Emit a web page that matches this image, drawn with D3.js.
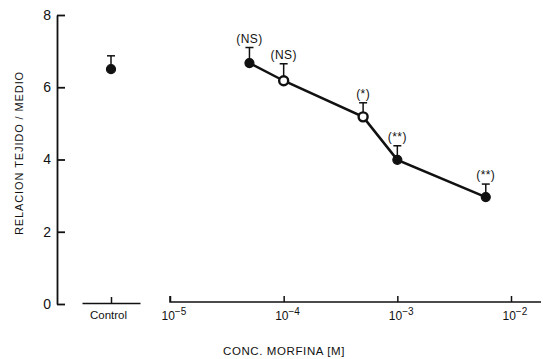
<!DOCTYPE html>
<html><head><meta charset="utf-8">
<script src="https://cdn.jsdelivr.net/npm/d3@7"></script>
<style>
body{margin:0;background:#fff;}
svg{display:block;font-family:"Liberation Sans",Arial,sans-serif;}
</style></head>
<body><svg id="c" width="543" height="359"></svg>
<script>
// Data
const controlCategory = ["Control"];
const controlValue = [6.5];
const controlErr = [6.87];
const concentrations = [5e-5, 1e-4, 5e-4, 1e-3, 6e-3];
const ratioValues = [6.67, 6.18, 5.18, 3.99, 2.96];
const errorTops = [7.1, 6.65, 5.57, 4.38, 3.32];
const significance = ["(NS)", "(NS)", "(*)", "(**)", "(**)"];
const openMarker = [false, true, true, false, false];
const yTicks = [0, 2, 4, 6, 8];
const xTicks = [1e-5, 1e-4, 1e-3, 1e-2];
const xTickExp = ["-5", "-4", "-3", "-2"];

const svg = d3.select("#c");
const y = d3.scaleLinear().domain([0, 8]).range([304, 15]);
const x = d3.scaleLog().domain([1e-5, 1e-2]).range([170, 511]);
const xc = d3.scalePoint().domain(controlCategory).range([82, 140]).padding(0.5);

// Y axis
const ya = svg.append("g").attr("transform", "translate(57,0)")
  .call(d3.axisLeft(y).tickValues(yTicks).tickSizeInner(-8).tickSizeOuter(0).tickPadding(6).tickFormat(d3.format("d")));
ya.selectAll("path,line").attr("stroke", "#111").attr("stroke-width", 1.8);
ya.selectAll("text").attr("font-size", 14).attr("fill", "#111");

// Control axis
const ca = svg.append("g").attr("transform", "translate(0,303)")
  .call(d3.axisBottom(xc).tickSizeInner(-6).tickSizeOuter(0).tickPadding(8));
ca.selectAll("path,line").attr("stroke", "#111").attr("stroke-width", 1.5);
ca.selectAll("text").attr("font-size", 11.5).attr("fill", "#111").attr("x", -3);

// Log axis
const la = svg.append("g").attr("transform", "translate(0,302)")
  .call(d3.axisBottom(x).tickValues(xTicks).tickSizeInner(-6).tickSizeOuter(0).tickPadding(9).tickFormat(() => ""));
la.select(".domain").attr("d", "M" + x(1e-5) + ",-6V0H541");
la.selectAll("path,line").attr("stroke", "#111").attr("stroke-width", 1.5);
la.selectAll(".tick text").each(function(d, i) {
  const t = d3.select(this).attr("font-size", 12).attr("fill", "#111").attr("text-anchor", "start")
    .attr("x", -9).attr("y", 18).attr("dy", null);
  t.append("tspan").text("10");
  t.append("tspan").attr("dy", -5).attr("font-size", 10).text("\u2212" + xTickExp[i].slice(1));
});

// Axis titles
svg.append("text").attr("x", 284).attr("y", 355).attr("text-anchor", "middle")
  .attr("font-size", 11.5).attr("fill", "#111").attr("letter-spacing", 0.6).text("CONC. MORFINA [M]");
svg.append("text").attr("transform", "translate(23,153) rotate(-90)").attr("text-anchor", "middle")
  .attr("font-size", 11).attr("fill", "#111").attr("letter-spacing", 0.9).text("RELACION  TEJIDO / MEDIO");

// Error bars
function errBar(cx, v, e) {
  svg.append("line").attr("x1", cx).attr("x2", cx).attr("y1", y(v)).attr("y2", y(e)).attr("stroke", "#111").attr("stroke-width", 1.5);
  svg.append("line").attr("x1", cx - 4).attr("x2", cx + 4).attr("y1", y(e)).attr("y2", y(e)).attr("stroke", "#111").attr("stroke-width", 1.5);
}
errBar(xc("Control"), controlValue[0], controlErr[0]);
concentrations.forEach((c, i) => errBar(x(c), ratioValues[i], errorTops[i]));

// Line
svg.append("path").datum(concentrations.map((c, i) => [c, ratioValues[i]]))
  .attr("d", d3.line().x(d => x(d[0])).y(d => y(d[1])))
  .attr("fill", "none").attr("stroke", "#111").attr("stroke-width", 2.5);

// Markers
svg.append("circle").attr("cx", xc("Control")).attr("cy", y(controlValue[0])).attr("r", 4.5)
  .attr("fill", "#111").attr("stroke", "#111").attr("stroke-width", 1.2);
svg.selectAll(".pt").data(concentrations).enter().append("circle")
  .attr("cx", d => x(d)).attr("cy", (d, i) => y(ratioValues[i])).attr("r", 4.5)
  .attr("fill", (d, i) => openMarker[i] ? "#fff" : "#111")
  .attr("stroke", "#111").attr("stroke-width", (d, i) => openMarker[i] ? 2.4 : 1.2);

// Significance labels
svg.selectAll(".sig").data(concentrations).enter().append("text")
  .attr("x", d => x(d)).attr("y", (d, i) => y(errorTops[i]) - 5)
  .attr("text-anchor", "middle").attr("font-size", 12).attr("fill", "#111").attr("letter-spacing", 0.4)
  .text((d, i) => significance[i]);
</script></body></html>
